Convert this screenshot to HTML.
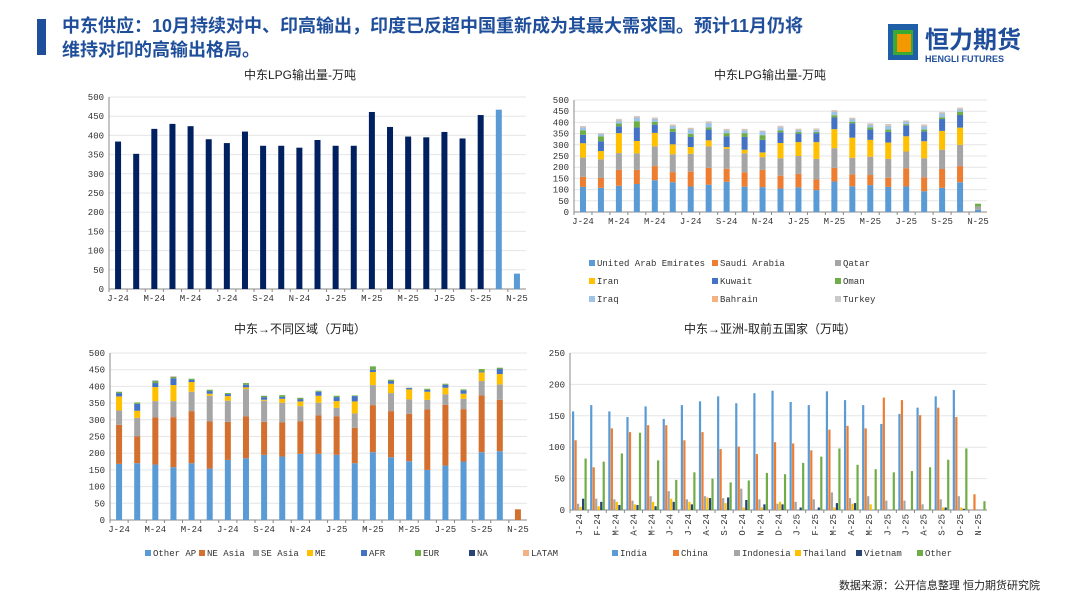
<!DOCTYPE html>
<html><head><meta charset="utf-8"><style>
body{margin:0;background:#fff;}
svg{display:block;font-family:"Liberation Sans","Noto Sans CJK SC",sans-serif;}
.tk{font-size:9px;fill:#333;font-family:"Liberation Mono","Noto Sans CJK SC",monospace;}
.tt{font-size:12px;fill:#222;}
</style></head><body>
<svg id="s" width="1080" height="608">
<rect x="37" y="19" width="9" height="36" fill="#1F4E9A"/>
<text x="62" y="32" font-size="18" font-weight="bold" fill="#1F4E9A">中东供应：10月持续对中、印高输出，印度已反超中国重新成为其最大需求国。预计11月仍将</text>
<text x="62" y="56" font-size="18" font-weight="bold" fill="#1F4E9A">维持对印的高输出格局。</text>
<g>
<rect x="888" y="24" width="30" height="36" fill="#1F5FA8"/>
<rect x="893" y="30" width="20" height="25" fill="#3AAA35"/>
<rect x="897" y="34" width="14" height="18" fill="#F39800"/>
<text x="925" y="48" font-size="24" font-weight="bold" fill="#1F4E9A">恒力期货</text>
<text x="925" y="62" font-size="9" font-weight="bold" fill="#1F4E9A">HENGLI FUTURES</text>
</g>
<text x="300" y="79" text-anchor="middle" class="tt">中东LPG输出量-万吨</text>
<text x="770" y="79" text-anchor="middle" class="tt">中东LPG输出量-万吨</text>
<text x="300" y="333" text-anchor="middle" class="tt">中东→不同区域（万吨）</text>
<text x="770" y="333" text-anchor="middle" class="tt">中东→亚洲-取前五国家（万吨）</text>
<text x="1040" y="589" text-anchor="end" font-size="11" fill="#222">数据来源：公开信息整理  恒力期货研究院</text>
</svg>
<script>
const months=["J-24","F-24","M-24","A-24","M-24","J-24","J-24","A-24","S-24","O-24","N-24","D-24","J-25","F-25","M-25","A-25","M-25","J-25","J-25","A-25","S-25","O-25","N-25"];
const c1Values=[384,352,417,430,424,390,380,410,373,373,368,388,373,373,461,422,397,395,409,392,453,467,40];
const c2Series=["United Arab Emirates","Saudi Arabia","Qatar","Iran","Kuwait","Oman","Iraq","Bahrain","Turkey"];
const c2UAE=[112,108,117,125,142,133,114,122,135,113,111,105,110,98,136,115,120,112,114,93,108,133,10];
const c2Saudi=[45,44,71,63,63,45,66,75,58,64,77,57,60,47,61,53,45,41,81,62,84,72,0];
const c2Qatar=[86,83,75,74,88,80,80,96,89,85,57,78,80,92,88,74,82,84,75,85,86,95,15];
const c2Iran=[64,37,89,55,60,44,30,27,8,16,21,68,62,75,85,90,75,73,68,76,84,77,0];
const c2Kuwait=[38,44,31,60,37,56,45,48,48,57,56,48,38,40,52,64,46,48,49,44,53,56,0];
const c2Oman=[20,22,12,28,12,14,13,10,14,17,21,9,7,5,10,7,10,10,5,8,8,15,12];
const c2Iraq=[13,10,13,17,14,13,22,20,13,13,17,13,10,10,16,12,12,17,12,17,17,12,0];
const c2Bahrain=[3,2,4,3,3,3,3,3,3,3,2,3,3,3,3,3,3,3,2,3,3,3,0];
const c2Turkey=[3,2,4,4,3,3,3,4,3,3,2,4,2,3,4,3,3,5,3,3,4,3,0];
const c3Series=["Other AP","NE Asia","SE Asia","ME","AFR","EUR","NA","LATAM"];
const c3OtherAP=[168,170,166,158,170,154,180,185,195,190,198,198,195,170,203,188,176,150,163,175,203,206,0];
const c3NEAsia=[117,80,141,150,156,141,114,125,99,102,97,115,115,106,141,138,142,181,182,157,170,154,32];
const c3SEAsia=[43,56,49,48,58,77,63,82,63,59,46,38,26,43,60,54,43,29,31,31,43,46,0];
const c3ME=[42,21,42,48,29,6,14,5,3,12,14,21,20,36,39,28,30,24,20,15,26,31,0];
const c3AFR=[10,21,12,20,7,8,6,8,8,6,7,12,12,16,7,8,4,6,9,10,3,15,0];
const c3EUR=[4,4,6,4,3,4,3,5,4,5,4,3,4,2,10,4,1,3,3,3,7,4,0];
const c3NA=[0,0,1,1,0,0,0,0,0,0,0,0,0,0,0,0,0,0,0,0,0,0,0];
const c3LATAM=[0,0,0,1,0,0,0,0,0,0,0,0,0,0,0,0,0,0,0,0,0,0,0];
const c4Series=["India","China","Indonesia","Thailand","Vietnam","Other"];
const c4India=[157,167,157,148,165,145,167,173,181,170,186,190,172,167,189,175,167,137,153,163,181,191,0];
const c4China=[111,68,130,124,135,135,111,124,97,101,89,108,106,95,128,134,130,179,175,151,163,148,25];
const c4Indonesia=[10,18,17,15,22,30,17,22,19,34,17,10,13,17,28,19,22,15,15,9,17,22,0];
const c4Thailand=[5,6,13,9,13,18,13,20,11,4,4,13,0,0,4,10,9,0,0,0,4,4,0];
const c4Vietnam=[18,13,8,8,6,13,9,19,20,16,9,9,4,4,11,11,0,0,0,0,4,2,0];
const c4Other=[82,77,90,123,79,48,60,50,44,47,59,57,75,85,98,72,65,60,62,68,80,98,14];
const yTicks500=[0,50,100,150,200,250,300,350,400,450,500];
const yTicks250=[0,50,100,150,200,250];

const S=document.getElementById('s');const NS='http://www.w3.org/2000/svg';
function mk(t,a,p){const e=document.createElementNS(NS,t);for(const k in a)e.setAttribute(k,a[k]);(p||S).appendChild(e);return e;}
function axes(g,x0,x1,y0,y1,max,ticks,grid,rot){
  const sy=v=>y0-(v/max)*(y0-y1);
  ticks.forEach(v=>{
    if(grid&&v>0)mk('line',{x1:x0,x2:x1,y1:sy(v),y2:sy(v),stroke:'#e6e6e6','stroke-width':1},g);
    const t=mk('text',{x:x0-5,y:sy(v)+3,'text-anchor':'end',class:'tk'},g);t.textContent=v;
    
    
  });
  mk('line',{x1:x0,x2:x0,y1:y1,y2:y0,stroke:'#888'},g);
  mk('line',{x1:x0,x2:x1,y1:y0,y2:y0,stroke:'#888'},g);
  const cw=(x1-x0)/months.length;
  months.forEach((m,i)=>{
    mk('line',{x1:x0+i*cw,x2:x0+i*cw,y1:y0,y2:y0+3,stroke:'#888'},g);
    if(rot){const t=mk('text',{x:0,y:0,'text-anchor':'end',class:'tk',transform:`translate(${x0+(i+0.5)*cw+3},${y0+4}) rotate(-90)`},g);t.textContent=m;
      
      }
    else if(i%2==0){const t=mk('text',{x:x0+(i+0.5)*cw,y:y0+12,'text-anchor':'middle',class:'tk'},g);t.textContent=m;
      
      }
  });
  return {sy,cw};
}
function legend(g,items,colors,x,y,dx,dy,cols){
  items.forEach((n,i)=>{const c=i%cols,r=Math.floor(i/cols);
    const lg=mk('g',{},g);
    
    
    mk('rect',{x:x+c*dx,y:y+r*dy-6,width:6,height:6,fill:colors[i]},lg);
    const t=mk('text',{x:x+c*dx+8,y:y+r*dy,class:'tk','font-size':'10'},lg);t.textContent=n;});
}
function stacked(g,x0,x1,y0,y1,series,colors,bw){
  const {sy,cw}=axes(g,x0,x1,y0,y1,500,yTicks500,true,false);
  months.forEach((m,i)=>{let acc=0;
    series.forEach((s,k)=>{const v=s[i];if(v<=0)return;
      const r=mk('rect',{x:x0+(i+0.5)*cw-bw/2,y:sy(acc+v),width:bw,height:sy(acc)-sy(acc+v),fill:colors[k]},g);
      
      
      acc+=v;});});
}
// chart1
{const g=mk('g',{});
 const x0=109,x1=526,y0=289,y1=97;const {sy,cw}=axes(g,x0,x1,y0,y1,500,yTicks500,true,false);
 c1Values.forEach((v,i)=>{const r=mk('rect',{x:x0+(i+0.5)*cw-3,y:sy(v),width:6,height:y0-sy(v),fill:i>=21?'#5B9BD5':'#002060'},g);
  
  });}
// chart2
const c2Colors=['#5B9BD5','#ED7D31','#A5A5A5','#FFC000','#4472C4','#70AD47','#9DC3E6','#F4B183','#C9C9C9'];
{const g=mk('g',{});
 stacked(g,574,987,212,100,[c2UAE,c2Saudi,c2Qatar,c2Iran,c2Kuwait,c2Oman,c2Iraq,c2Bahrain,c2Turkey],c2Colors,6);
 legend(g,c2Series,c2Colors,589,266,123,18,3);}
// chart3
const c3Colors=['#5B9BD5','#D4702F','#A5A5A5','#FFC000','#4472C4','#70AD47','#264478','#F4B183'];
{const g=mk('g',{});
 stacked(g,110,527,520,353,[c3OtherAP,c3NEAsia,c3SEAsia,c3ME,c3AFR,c3EUR,c3NA,c3LATAM],c3Colors,6);
 legend(g,c3Series,c3Colors,145,556,54,0,8);}
// chart4
const c4Colors=['#5B9BD5','#ED7D31','#A5A5A5','#FFC000','#264478','#70AD47'];
{const g=mk('g',{});
 const x0=570,x1=987,y0=510,y1=353;const {sy,cw}=axes(g,x0,x1,y0,y1,250,yTicks250,true,true);
 const ser=[c4India,c4China,c4Indonesia,c4Thailand,c4Vietnam,c4Other];
 months.forEach((m,i)=>{ser.forEach((s,k)=>{const v=s[i];if(v<=0)return;
  const r=mk('rect',{x:x0+i*cw+2+k*2.5,y:sy(v),width:2.2,height:y0-sy(v),fill:c4Colors[k]},g);
  
  });});
 legend(g,c4Series,c4Colors,612,556,61,0,6);}
</script>
</body></html>
